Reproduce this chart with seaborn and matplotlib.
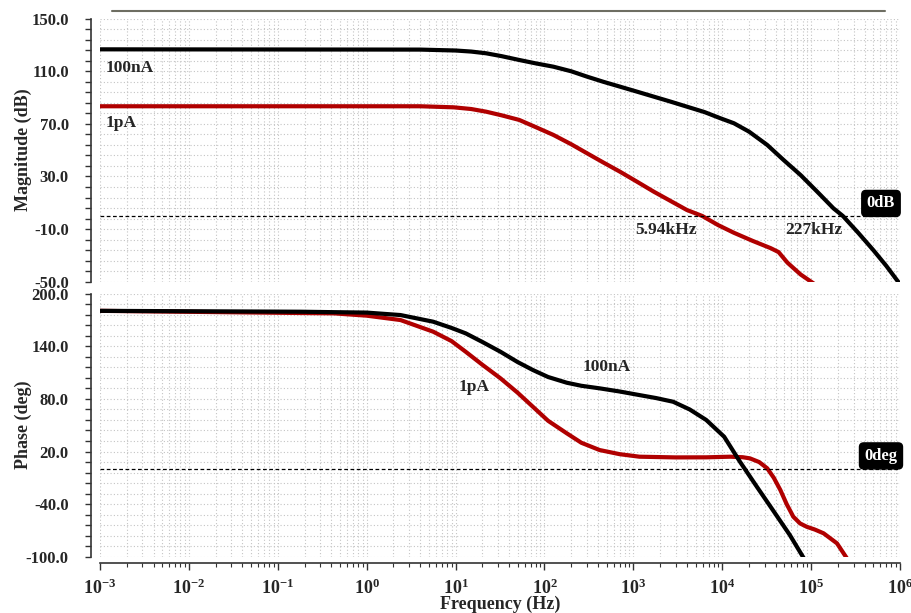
import math

import matplotlib
matplotlib.use("Agg")
from matplotlib import pyplot as plt
from matplotlib.lines import Line2D
from matplotlib.ticker import LogLocator, MultipleLocator, FormatStrFormatter, FuncFormatter, NullFormatter
import seaborn as sns

# magnitude (dB) vs frequency (Hz)
mag_f_100n = [1e-3, 4.0, 10, 15, 22, 33, 52, 80, 126, 200, 302, 460, 708, 1.1e3, 1.7e3, 2.6e3,
              4.0e3, 6.3e3, 9.5e3, 1.35e4, 2.0e4, 3.2e4, 4.9e4, 7.6e4, 1.17e5, 1.78e5, 2.27e5,
              3.4e5, 5.0e5, 7.0e5, 1e6]
mag_100n = [126.7, 126.5, 125.8, 125.0, 123.7, 121.5, 118.6, 116.0, 113.5, 110.0, 105.9, 102.0,
            98.3, 94.5, 90.7, 87.0, 83.1, 79.0, 74.3, 70.5, 64.1, 54.0, 42.5, 31.1, 18.4, 5.8,
            0.0, -13.0, -26.0, -38.0, -52.0]

mag_f_1p = [1e-3, 4.0, 9.5, 15, 22, 33, 52, 80, 126, 200, 302, 460, 708, 1.1e3, 1.7e3, 2.6e3,
            4.0e3, 5.94e3, 9.0e3, 1.35e4, 2.2e4, 3.5e4, 4.3e4, 5.4e4, 7.6e4, 1.1e5]
mag_1p = [83.4, 83.4, 82.6, 81.3, 79.3, 76.5, 73.0, 67.5, 61.6, 54.5, 47.6, 40.6, 33.6, 26.0,
          18.4, 11.5, 4.5, 0.0, -7.0, -12.8, -19.0, -24.5, -27.5, -35.5, -44.5, -52.0]

# phase (deg) vs frequency (Hz)
ph_f_100n = [1e-3, 0.18, 1.0, 2.4, 5.6, 9, 13, 20, 32, 50, 74, 110, 178, 260, 417, 700, 1.17e3,
             1.8e3, 2.8e3, 4.3e3, 6.6e3, 1.05e4, 1.58e4, 2.45e4, 3.7e4, 5.75e4, 8.5e4]
ph_100n = [180.5, 179.5, 178.5, 175.7, 168.1, 161.0, 154.8, 145.0, 133.8, 122.0, 113.0, 105.0,
           98.5, 95.0, 92.1, 88.5, 84.4, 81.0, 76.8, 68.0, 56.0, 36.9, 8.4, -20.2, -46.7,
           -75.2, -103.8]

ph_f_1p = [1e-3, 0.43, 1.0, 2.4, 5.6, 9, 13, 20, 32, 50, 74, 110, 178, 260, 417, 700, 1.17e3,
           3.0e3, 6.6e3, 1.23e4, 1.7e4, 2.05e4, 2.6e4, 3.2e4, 3.8e4, 4.5e4, 5.3e4, 6.3e4, 7.5e4,
           8.9e4, 1.1e5, 1.38e5, 1.95e5, 2.6e5]
ph_1p = [180.5, 177.6, 175.0, 170.0, 156.7, 146.0, 133.8, 119.0, 103.5, 87.0, 71.1, 55.0, 40.8,
         30.0, 21.7, 17.0, 14.1, 13.3, 13.4, 14.1, 13.5, 12.2, 8.0, 0.9, -10.0, -23.9, -40.0,
         -54.4, -62.0, -65.8, -69.0, -73.3, -84.7, -103.8]

BLACK = "#000000"
RED = "#b00000"


def style_axis(ax, ylim, major, minor, offset, minor_offset):
    ax.set_xscale("log")
    ax.set_xlim(1e-3, 1e6)
    ax.set_ylim(*ylim)
    ax.yaxis.set_major_locator(MultipleLocator(major, offset=offset))
    ax.yaxis.set_minor_locator(MultipleLocator(minor, offset=minor_offset))
    ax.yaxis.set_major_formatter(FormatStrFormatter("%.1f"))
    ax.xaxis.set_major_locator(LogLocator(base=10, numticks=20))
    ax.xaxis.set_minor_locator(LogLocator(base=10, subs=range(2, 10), numticks=20))
    ax.xaxis.set_minor_formatter(NullFormatter())
    ax.grid(which="both", color="#c4c4c4", linestyle=(0, (1, 2)), linewidth=0.8)
    for s in ["top", "right"]:
        ax.spines[s].set_visible(False)
    ax.spines["left"].set_position(("outward", 6.5))
    ax.spines["left"].set_color("#333333")
    ax.spines["left"].set_linewidth(1.2)
    ax.tick_params(axis="y", which="both", direction="out", length=4, width=1,
                   color="#333333", labelsize=12, pad=12, left=True)


def add_tag(ax, x, y, txt):
    ax.text(x, y, txt, color="white", fontsize=12, fontweight="bold", ha="center", va="center",
            bbox=dict(boxstyle="round,pad=0.3,rounding_size=0.25", fc="black", ec="black"))


if __name__ == "__main__":
    sns.set_theme(style="white")
    plt.rcParams["font.family"] = ["Liberation Serif", "DejaVu Serif"]
    plt.rcParams["font.weight"] = "bold"
    plt.rcParams["mathtext.fontset"] = "custom"
    plt.rcParams["mathtext.bf"] = "Liberation Serif:bold"
    plt.rcParams["mathtext.rm"] = "Liberation Serif:bold"

    fig = plt.figure(figsize=(9.11, 6.13), dpi=100)
    ax1 = fig.add_axes([0.1098, 0.5405, 0.8782, 0.429])
    ax2 = fig.add_axes([0.1098, 0.0918, 0.8782, 0.429])

    # magnitude
    style_axis(ax1, (-50, 150), 40, 8, 30, 6)
    sns.lineplot(x=mag_f_100n, y=mag_100n, ax=ax1, color=BLACK, lw=3, sort=False)
    sns.lineplot(x=mag_f_1p, y=mag_1p, ax=ax1, color=RED, lw=3, sort=False)
    ax1.axhline(0, color="black", lw=0.9, ls=(0, (3, 2)))
    ax1.tick_params(axis="x", which="both", bottom=False, labelbottom=False)
    ax1.spines["bottom"].set_visible(False)
    ax1.text(1.15e-3, 112.5, "100nA", fontsize=12.5, fontweight="bold", va="center")
    ax1.text(1.15e-3, 70.5, "1pA", fontsize=12.5, fontweight="bold", va="center")
    ax1.text(1.04e3, -10.5, "5.94kHz", fontsize=12.5, fontweight="bold", va="center")
    ax1.text(5.1e4, -10.5, "227kHz", fontsize=12.5, fontweight="bold", va="center")
    add_tag(ax1, 6.1e5, 9.5, "0dB")
    ax1.set_ylabel("Magnitude (dB)", fontsize=13, fontweight="bold")
    ax1.yaxis.set_label_coords(-0.085, 0.5)

    # phase (black drawn over red)
    style_axis(ax2, (-100, 200), 60, 12, 20, 8)
    sns.lineplot(x=ph_f_1p, y=ph_1p, ax=ax2, color=RED, lw=3, sort=False)
    sns.lineplot(x=ph_f_100n, y=ph_100n, ax=ax2, color=BLACK, lw=3, sort=False)
    ax2.axhline(0, color="black", lw=0.9, ls=(0, (3, 2)))
    ax2.text(270, 116.5, "100nA", fontsize=12.5, fontweight="bold", va="center")
    ax2.text(10.7, 93.5, "1pA", fontsize=12.5, fontweight="bold", va="center")
    add_tag(ax2, 6.1e5, 15, "0deg")
    ax2.spines["bottom"].set_position(("outward", 4.7))
    ax2.spines["bottom"].set_color("#333333")
    ax2.spines["bottom"].set_linewidth(1.2)
    ax2.xaxis.set_major_formatter(FuncFormatter(lambda v, p: r"$\mathbf{10^{%d}}$" % round(math.log10(v))))
    ax2.tick_params(axis="x", which="major", direction="out", length=5, width=1,
                    color="#333333", labelsize=13, pad=6, bottom=True)
    ax2.tick_params(axis="x", which="minor", direction="out", length=3, width=0.8,
                    color="#333333", bottom=True)
    ax2.set_ylabel("Phase (deg)", fontsize=13, fontweight="bold")
    ax2.yaxis.set_label_coords(-0.085, 0.5)
    ax2.set_xlabel("Frequency (Hz)", fontsize=13, fontweight="bold")
    ax2.xaxis.set_label_coords(0.5, -0.15)
    ax2.xaxis.label.set_va("top")

    fig.add_artist(Line2D([112 / 911, 885 / 911], [1 - 11 / 613, 1 - 11 / 613],
                          color="#6e6e62", lw=1.5))

    fig.savefig("out.png", dpi=100)
